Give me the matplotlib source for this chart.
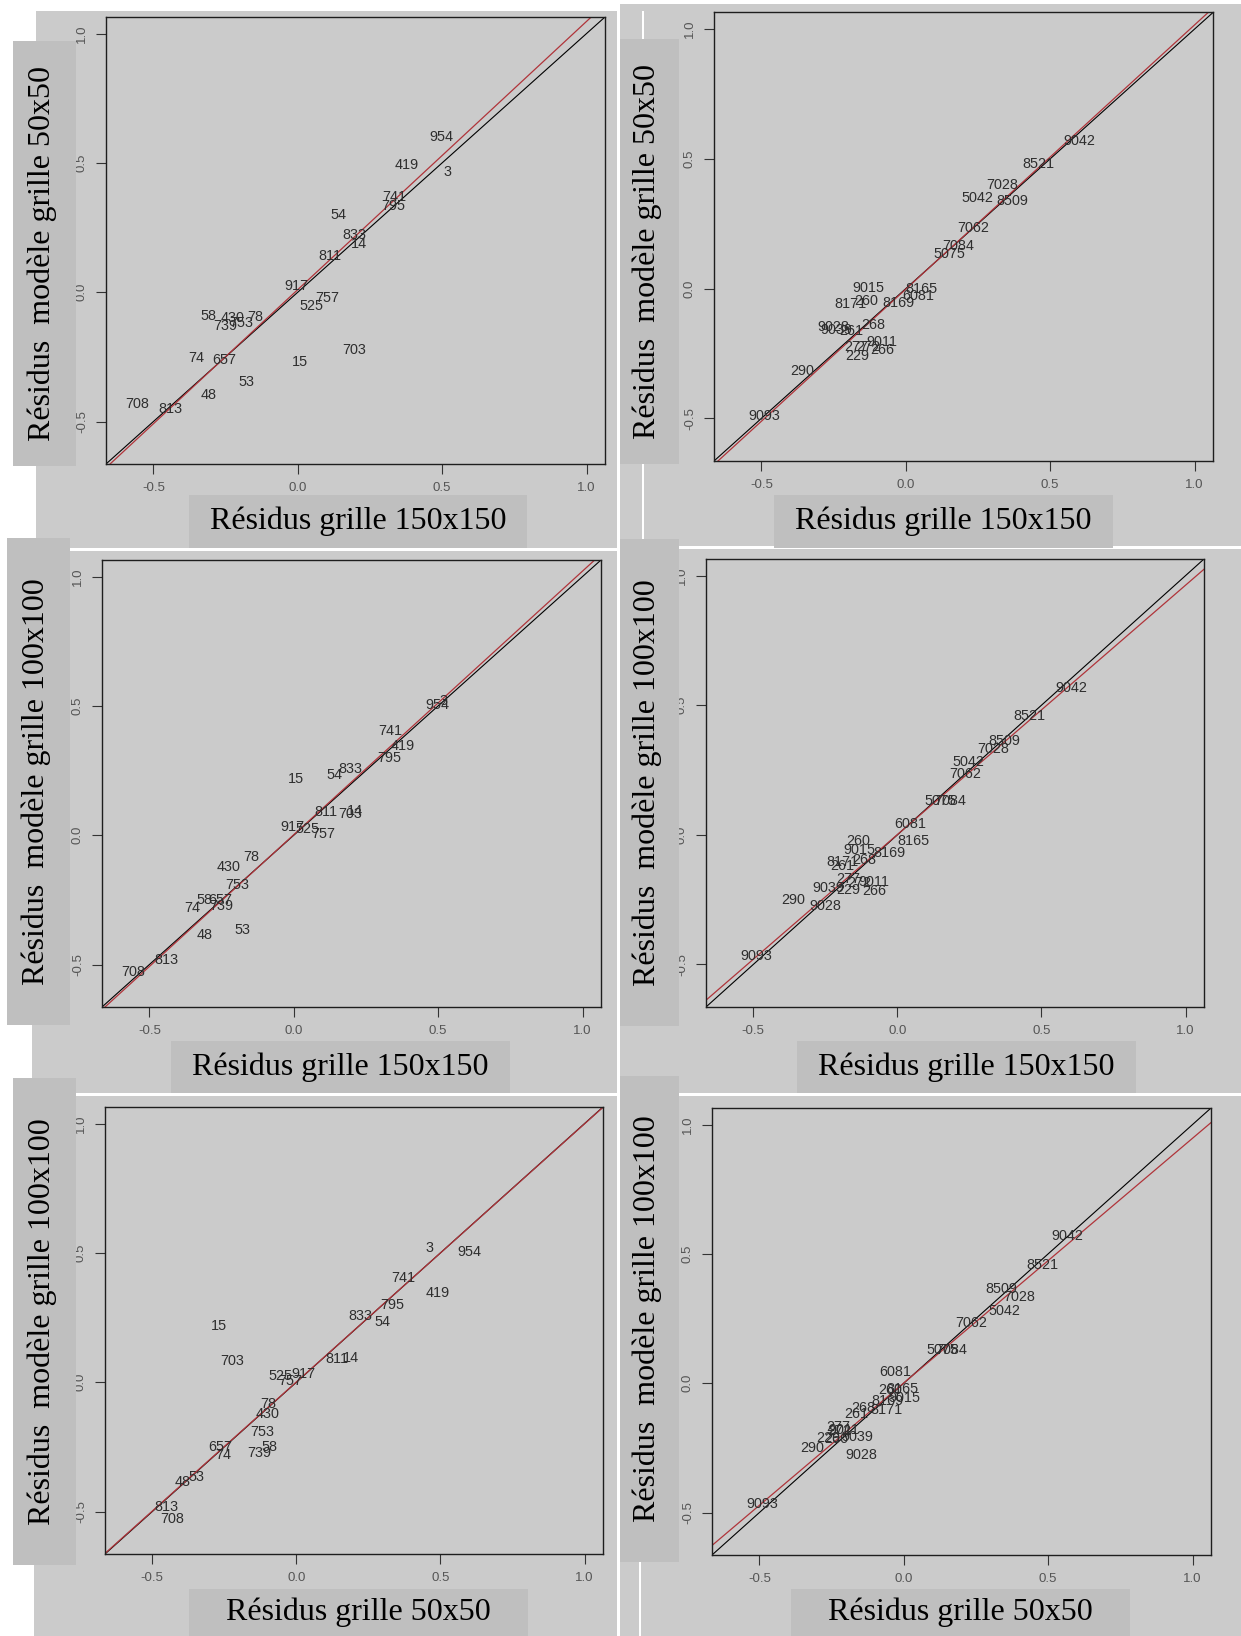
import matplotlib
matplotlib.use('Agg')
import matplotlib.pyplot as plt
from matplotlib.patches import Rectangle

W, H = 1241, 1636

# residuals per cell, first zone (left column), three grid sizes
ids_a = ['954', '419', '3', '741', '795', '54', '833', '14', '811', '917', '757', '525',
         '58', '430', '78', '739', '753', '74', '657', '15', '703', '53', '48', '708', '813']
a_150 = [0.496, 0.378, 0.519, 0.334, 0.332, 0.140, 0.197, 0.213, 0.111, -0.006, 0.101, 0.046,
         -0.310, -0.227, -0.148, -0.252, -0.197, -0.350, -0.255, 0.008, 0.197, -0.178, -0.310, -0.555, -0.440]
a_50 = [0.601, 0.490, 0.463, 0.370, 0.333, 0.297, 0.223, 0.188, 0.142, 0.024, -0.021, -0.055,
        -0.093, -0.101, -0.097, -0.129, -0.119, -0.253, -0.263, -0.268, -0.224, -0.346, -0.396, -0.432, -0.452]
a_100 = [0.503, 0.346, 0.518, 0.404, 0.298, 0.231, 0.256, 0.095, 0.088, 0.033, 0.005, 0.023,
         -0.252, -0.124, -0.084, -0.272, -0.191, -0.281, -0.249, 0.217, 0.084, -0.365, -0.387, -0.530, -0.482]

# second zone (right column)
ids_b = ['9042', '8521', '7028', '5042', '8509', '7062', '7084', '5075', '9015', '8165', '6081', '260',
         '8169', '8171', '268', '261', '277', '272', '9011', '9039', '229', '266', '9028', '290', '9093']
b_150 = [0.602, 0.460, 0.333, 0.247, 0.370, 0.235, 0.183, 0.151, -0.131, 0.056, 0.043, -0.137,
         -0.026, -0.190, -0.114, -0.190, -0.172, -0.131, -0.083, -0.241, -0.169, -0.080, -0.250, -0.360, -0.490]
b_50 = [0.567, 0.479, 0.400, 0.350, 0.338, 0.232, 0.165, 0.135, 0.001, -0.003, -0.029, -0.048,
        -0.055, -0.060, -0.141, -0.164, -0.226, -0.225, -0.207, -0.161, -0.260, -0.235, -0.148, -0.318, -0.491]
b_100 = [0.568, 0.457, 0.333, 0.281, 0.363, 0.234, 0.129, 0.129, -0.057, -0.022, 0.043, -0.025,
         -0.070, -0.105, -0.097, -0.119, -0.171, -0.184, -0.180, -0.206, -0.211, -0.215, -0.276, -0.250, -0.466]

# red fitted line (intercept, slope) of each panel
fits = [(0.010, 1.037), (-0.002, 1.018),
        (0.002, 1.019), (0.001, 0.962),
        (0.001, 0.998), (0.001, 0.946)]

x_titles = ['Résidus grille 150x150', 'Résidus grille 150x150',
            'Résidus grille 150x150', 'Résidus grille 150x150',
            'Résidus grille 50x50', 'Résidus grille 50x50']
y_titles = ['Résidus  modèle grille 50x50', 'Résidus  modèle grille 50x50',
            'Résidus  modèle grille 100x100', 'Résidus  modèle grille 100x100',
            'Résidus  modèle grille 100x100', 'Résidus  modèle grille 100x100']

ticks = [-0.5, 0.0, 0.5, 1.0]
tick_text = ['-0.5', '0.0', '0.5', '1.0']

panels = [(a_150, a_50, ids_a), (b_150, b_50, ids_b),
          (a_150, a_100, ids_a), (b_150, b_100, ids_b),
          (a_50, a_100, ids_a), (b_50, b_100, ids_b)]

# pixel boxes: background, plot frame, y title box, x title box
layout = [
    ((36, 11, 617, 548), (106, 17, 605, 464), (13, 41, 76, 466), (189, 495, 527, 548)),
    ((620, 4, 1241, 546), (714, 12.5, 1213, 461), (620, 39, 679, 464), (774, 495, 1113, 548)),
    ((32, 551, 617, 1093), (102, 560, 601, 1007), (7, 538, 70, 1025), (171, 1041, 510, 1093)),
    ((620, 549, 1241, 1093), (706, 559, 1204, 1007), (620, 539, 679, 1026), (797, 1041, 1136, 1093)),
    ((34, 1096, 617, 1636), (105, 1107, 603, 1554), (13, 1078, 76, 1565), (189, 1589, 528, 1636)),
    ((620, 1096, 1241, 1636), (712, 1108, 1211, 1555), (620, 1076, 679, 1562), (791, 1589, 1130, 1636)),
]

BG = '#cbcbcb'
BOX = '#bfbfbf'
RED = '#b0343a'
LIM = (-0.664, 1.064)


def frac(x0, y0, x1, y1):
    return [x0 / W, 1 - y1 / H, (x1 - x0) / W, (y1 - y0) / H]


def fig_rect(fig, box, color, z):
    l, b, w, h = frac(*box)
    fig.add_artist(Rectangle((l, b), w, h, transform=fig.transFigure,
                             facecolor=color, edgecolor='none', zorder=z))


fig = plt.figure(figsize=(W / 100, H / 100), dpi=100)
fig.patch.set_facecolor('white')

for k in range(6):
    bg, plot_box, ybox, xbox = layout[k]
    xs, ys, ids = panels[k]
    b0, b1 = fits[k]

    fig_rect(fig, bg, BG, -2)

    ax = fig.add_axes(frac(*plot_box))
    ax.set_facecolor(BG)
    ax.set_xlim(LIM)
    ax.set_ylim(LIM)
    ax.set_xticks(ticks)
    ax.set_yticks(ticks)
    ax.set_xticklabels(tick_text, family='Liberation Sans', fontsize=9.5, color='#555555')
    ax.set_yticklabels(tick_text, family='Liberation Sans', fontsize=9.5, color='#555555',
                       rotation=90, va='center')
    ax.tick_params(length=7, width=0.8, color='#333333', pad=6)
    for sp in ax.spines.values():
        sp.set_color('#1e1e1e')
        sp.set_linewidth(1.0)

    ax.axline((0, 0), slope=1, color='black', lw=0.8)
    ax.axline((0, b0), slope=b1, color=RED, lw=0.9)

    for i, s in enumerate(ids):
        ax.text(xs[i], ys[i], s, ha='center', va='center', fontsize=10.4,
                family='Liberation Sans', color='#2e2e2e', clip_on=True)

    # grey title boxes pasted over the plot, as in the original composite
    fig_rect(fig, ybox, BOX, 5)
    fig_rect(fig, xbox, BOX, 5)
    cy = (ybox[1] + ybox[3]) / 2
    cx = (ybox[0] + ybox[2]) / 2 - 2
    fig.text(cx / W, 1 - cy / H, y_titles[k], rotation=90, ha='center', va='center',
             fontsize=23, family='Liberation Serif', color='black', zorder=6)
    cx = (xbox[0] + xbox[2]) / 2
    cy = (xbox[1] + xbox[3]) / 2
    fig.text(cx / W, 1 - cy / H, x_titles[k], ha='center', va='center',
             fontsize=23, family='Liberation Serif', color='black', zorder=6)

# thin white seams left by the pasting
fig_rect(fig, (642, 11, 644, 546), 'white', -1)
fig_rect(fig, (639, 1562, 641, 1636), 'white', -1)

fig.savefig('out.png', dpi=100, facecolor='white')
